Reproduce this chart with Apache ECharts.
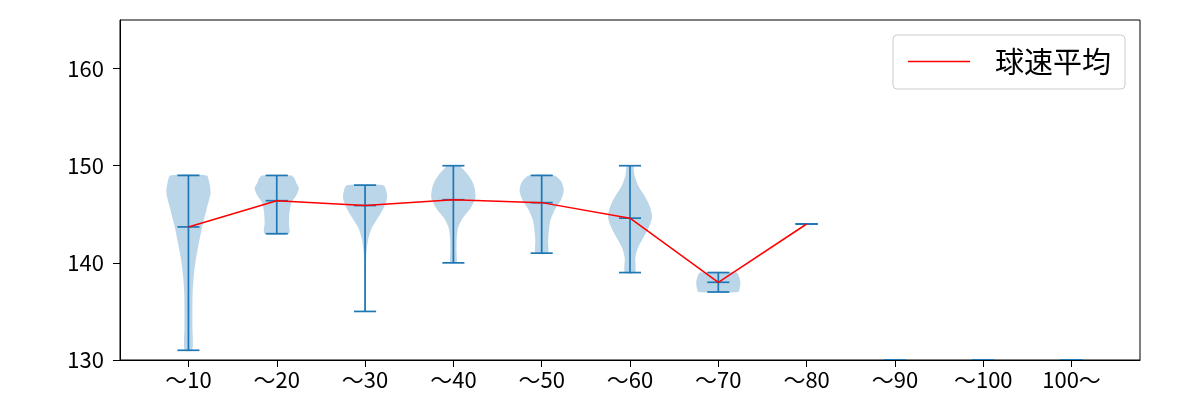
<!DOCTYPE html>
<html>
<head>
<meta charset="utf-8">
<script src="https://cdn.jsdelivr.net/npm/echarts@6/dist/echarts.min.js"></script>
<style>
html,body{margin:0;padding:0;background:#fff;}
#chart{width:1200px;height:400px;}
</style>
</head>
<body>
<div id="chart"></div>
<script>
const categories = ['～10','～20','～30','～40','～50','～60','～70','～80','～90','～100','100～'];
const meanSpeed = [143.7,146.4,145.9,146.5,146.2,144.6,138.0,144.0,null,null,null];
const minSpeed = [131,143,135,140,141,139,137,144,130,130,130];
const maxSpeed = [149,149,148,150,149,150,139,144,130,130,130];
const yTicks = [130,140,150,160];
// violin profiles: [speed, relative half-width]
const profile10 = [[131,0.17],[133.4,0.18],[135.2,0.18],[136.9,0.19],[138.6,0.24],[140.3,0.33],[142.0,0.47],[143.7,0.62],[145.5,0.82],[147.2,1.0],[148.2,0.95],[149,0.82]];
const profile20 = [[143,0.55],[144.1,0.55],[145.1,0.57],[146.15,0.66],[147.0,0.9],[147.7,1.0],[148.2,0.89],[148.7,0.8],[149,0.66]];
const profile30 = [[135,0.03],[137,0.03],[139,0.04],[140.5,0.05],[141.5,0.08],[142.5,0.15],[143.6,0.3],[144.6,0.57],[145.6,0.83],[146.67,1.0],[147.5,0.95],[148,0.83]];
const profile40 = [[140,0.14],[141.2,0.14],[142.5,0.15],[143.6,0.21],[144.6,0.42],[145.6,0.77],[146.67,1.0],[147.7,0.96],[148.4,0.85],[149.07,0.66],[149.6,0.45],[150,0.27]];
const profile50 = [[141,0.27],[142.2,0.29],[143.2,0.32],[144.4,0.4],[145.5,0.6],[146.5,0.88],[147.5,1.0],[148.4,0.88],[149,0.57]];
const profile60 = [[139,0.23],[140.5,0.24],[141.5,0.35],[142.5,0.58],[143.7,0.86],[144.8,1.0],[146.0,0.86],[147.0,0.63],[148.0,0.36],[149.07,0.2],[150,0.14]];
const profile70 = [[137,0.89],[137.5,0.98],[138.07,1.0],[138.5,0.95],[139,0.83]];
const profiles = [profile10,profile20,profile30,profile40,profile50,profile60,profile70,null,null,null,null];

const positions = categories.map((c,i)=>i+1);
const HALF = 0.25;
const BLUE = '#1f77b4';

const violinData = positions.map((p,i)=>[p,i]);
const meanLine = [];
meanSpeed.forEach((m,i)=>{ if(m!==null) meanLine.push([positions[i], m]); });

const chart = echarts.init(document.getElementById('chart'));
const FONT = '"Noto Sans CJK JP", "Noto Sans", sans-serif';

chart.setOption({
  animation:false,
  backgroundColor:'#fff',
  grid:{left:120, top:20, width:1020, height:340, show:true, borderColor:'#000', borderWidth:1, backgroundColor:'transparent'},
  xAxis:{
    type:'value', min:0.225, max:11.775,
    axisLine:{show:true, onZero:false, lineStyle:{color:'#000', width:1}},
    axisTick:{show:true, length:7, lineStyle:{color:'#000'}, customValues:positions},
    axisLabel:{show:true, color:'#000', fontFamily:FONT, fontSize:22, margin:9,
      customValues:positions, formatter:(v)=>categories[Math.round(v)-1]},
    splitLine:{show:false}
  },
  yAxis:{
    type:'value', min:130, max:165,
    axisLine:{show:true, onZero:false, lineStyle:{color:'#000', width:1}},
    axisTick:{show:true, length:7, lineStyle:{color:'#000'}, customValues:yTicks},
    axisLabel:{show:true, color:'#000', fontFamily:FONT, fontSize:22, margin:16, customValues:yTicks},
    splitLine:{show:false}
  },
  legend:{
    right:75, top:35,
    data:[{name:'球速平均', icon:'path://M0,0 L62,0 L62,1.5 L0,1.5 Z'}],
    itemWidth:62, itemHeight:1.5,
    padding:[12,14,13,15],
    borderColor:'#cccccc', borderWidth:1, borderRadius:4,
    textStyle:{fontFamily:FONT, fontSize:29, color:'#000', padding:[0,0,0,20]}
  },
  series:[
    {
      type:'custom',
      name:'violin',
      data:violinData,
      clip:true,
      z:2,
      renderItem:(params, api)=>{
        const pos = api.value(0);
        const idx = api.value(1);
        const children = [];
        const prof = profiles[idx];
        if(prof){
          const right = prof.map(([v,w])=>api.coord([pos + w*HALF, v]));
          const left = prof.slice().reverse().map(([v,w])=>api.coord([pos - w*HALF, v]));
          children.push({type:'polygon', shape:{points:right.concat(left), smooth:0.25},
            style:{fill:'rgba(31,119,180,0.3)', stroke:null}});
        }
        const lo = minSpeed[idx], hi = maxSpeed[idx];
        const pTop = api.coord([pos, hi]), pBot = api.coord([pos, lo]);
        children.push({type:'line', shape:{x1:pTop[0], y1:pTop[1], x2:pBot[0], y2:pBot[1]}, style:{stroke:BLUE, lineWidth:1.7}});
        const capVals = [lo, hi];
        if(meanSpeed[idx]!==null) capVals.push(meanSpeed[idx]);
        capVals.forEach(v=>{
          const a = api.coord([pos - HALF/2, v]), b = api.coord([pos + HALF/2, v]);
          children.push({type:'line', shape:{x1:a[0], y1:a[1], x2:b[0], y2:b[1]}, style:{stroke:BLUE, lineWidth:1.7}});
        });
        return {type:'group', children};
      }
    },
    {
      type:'line',
      name:'球速平均',
      data:meanLine,
      symbol:'none',
      z:3,
      lineStyle:{color:'#ff0000', width:1.5},
      itemStyle:{color:'#ff0000'}
    }
  ]
});
</script>
</body>
</html>
